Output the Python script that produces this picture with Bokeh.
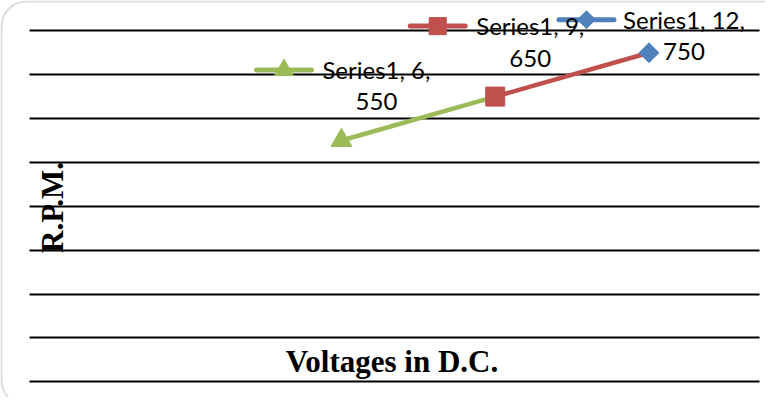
import math
from bokeh.plotting import figure
from bokeh.models import Range1d, FixedTicker, Label, BoxAnnotation, Grid
from bokeh.core.properties import value
from bokeh.embed import file_html
from bokeh.resources import INLINE

# ---------------- data ----------------
SERIES = "Series1"
VOLTS = [12, 9, 6]              # Voltages in D.C.
RPM = [750, 650, 550]           # R.P.M.
POINT_COLORS = ["#4F81BD", "#C0504D", "#9BBB59"]
POINT_MARKERS = ["diamond", "square", "triangle"]
Y_TICKS = [0, 100, 200, 300, 400, 500, 600, 700, 800]
X_TITLE = "Voltages in D.C."
Y_TITLE = "R.P.M."

# ---------------- layout / style ----------------
W, H = 765, 397
GRID_LEFT, GRID_RIGHT = 29.3, 758.7      # px inside canvas
GRID_TOP, GRID_BOTTOM = 30.3, 381.3
X_MIN, X_MAX = -0.08, 14.15
Y_MIN, Y_MAX = Y_TICKS[0], Y_TICKS[-1]

px_per_x = (GRID_RIGHT - GRID_LEFT) / (X_MAX - X_MIN)
px_per_y = (GRID_BOTTOM - GRID_TOP) / (Y_MAX - Y_MIN)


def x_at(px):
    return X_MIN + (px - GRID_LEFT) / px_per_x


def y_at(py):
    return Y_MIN + (GRID_BOTTOM - py) / px_per_y


def px_of_x(v):
    return GRID_LEFT + (v - X_MIN) * px_per_x


def px_of_y(v):
    return GRID_BOTTOM - (v - Y_MIN) * px_per_y


MARKER_STYLE = {
    "diamond": dict(marker="square", size=14, angle=math.pi / 4),
    "square": dict(marker="square", size=19, angle=0.0),
    "triangle": dict(marker="triangle", size=21, angle=0.0),
}

BASE_FIX = 10.0                  # renderer baseline correction (px)
LABEL_FONT = "Lato"
LABEL_SIZE = "24px"
TEXT_DX = 35.0
LINE1_DY = -61.0 - BASE_FIX
LINE2_DY = -28.5 - BASE_FIX
KEY_DY = -70.5
KEY_LEN = 55.0
KEY_GAP = 10.0
CHAR_W = 10.0
LABEL_TOP_DY = -78.0
LABEL_MIN_TOP = 11.7
TITLE_SIZE = "31px"

p = figure(
    width=W, height=H,
    x_range=Range1d(x_at(0), x_at(W)),
    y_range=Range1d(y_at(H), y_at(0)),
    output_backend="svg", toolbar_location=None,
    min_border=0, min_border_left=0, min_border_right=0,
    min_border_top=0, min_border_bottom=0,
)
p.xaxis.visible = False
p.yaxis.visible = False
p.xgrid.visible = False
p.ygrid.visible = False
p.outline_line_color = None
p.background_fill_color = "white"
p.border_fill_color = "white"

# horizontal gridlines
grid_kw = dict(dimension=1, ticker=FixedTicker(ticks=Y_TICKS), bounds=(Y_MIN, Y_MAX),
               grid_line_color="black", grid_line_width=2)
if "cross_bounds" in Grid.properties():
    p.add_layout(Grid(cross_bounds=(X_MIN, X_MAX), **grid_kw), "center")
else:
    p.segment(x0=[X_MIN] * len(Y_TICKS), x1=[X_MAX] * len(Y_TICKS), y0=Y_TICKS, y1=Y_TICKS,
              line_color="black", line_width=2)

# line segments (each segment takes the colour of its end point)
p.segment(x0=VOLTS[:-1], y0=RPM[:-1], x1=VOLTS[1:], y1=RPM[1:],
          line_color=POINT_COLORS[1:], line_width=4.5)

# markers
for v, r, c, m in zip(VOLTS, RPM, POINT_COLORS, POINT_MARKERS):
    st = MARKER_STYLE[m]
    p.scatter(x=[v], y=[r], marker=st["marker"], size=st["size"], angle=st["angle"],
              fill_color=c, line_color=c)

# data labels with legend keys
for v, r, c, m in zip(VOLTS, RPM, POINT_COLORS, POINT_MARKERS):
    sx, sy = px_of_x(v), px_of_y(r)
    shift = max(0.0, LABEL_MIN_TOP - (sy + LABEL_TOP_DY))
    t1 = f"{SERIES}, {v},"
    t2 = f"{r}"
    tw = CHAR_W * len(t1)
    text_cx = sx + TEXT_DX
    key_r = text_cx - tw / 2 - KEY_GAP
    key_l = key_r - KEY_LEN
    key_y = sy + KEY_DY + shift
    p.text(x=[x_at(text_cx)], y=[y_at(sy + LINE1_DY + shift)], text=[t1],
           text_font=value(LABEL_FONT), text_font_size=LABEL_SIZE, text_color="black",
           text_align="center", text_baseline="alphabetic")
    p.text(x=[x_at(text_cx)], y=[y_at(sy + LINE2_DY + shift)], text=[t2],
           text_font=value(LABEL_FONT), text_font_size=LABEL_SIZE, text_color="black",
           text_align="center", text_baseline="alphabetic")
    p.line(x=[x_at(key_l), x_at(key_r)], y=[y_at(key_y), y_at(key_y)],
           line_color=c, line_width=5, line_cap="round")
    st = MARKER_STYLE[m]
    p.scatter(x=[x_at((key_l + key_r) / 2)], y=[y_at(key_y)], marker=st["marker"],
              size=st["size"] * 0.9, angle=st["angle"], fill_color=c, line_color=c)

# axis titles
p.add_layout(Label(x=x_at(391.5), y=y_at(371 - BASE_FIX), text=X_TITLE, text_font="Liberation Serif",
                   text_font_style="bold", text_font_size=TITLE_SIZE, text_color="black",
                   text_align="center", text_baseline="alphabetic"))
p.add_layout(Label(x=x_at(62 - BASE_FIX), y=y_at(207), text=Y_TITLE, angle=math.pi / 2,
                   text_font="Liberation Serif", text_font_style="bold",
                   text_font_size=TITLE_SIZE, text_color="black",
                   text_align="center", text_baseline="alphabetic"))

# rounded chart border
p.add_layout(BoxAnnotation(left=x_at(1), right=x_at(W + 30), top=y_at(1), bottom=y_at(H + 8),
                           fill_alpha=0, line_color="#8c8c8c", line_width=2, border_radius=25))

open("out.html", "w").write(file_html(p, INLINE))
